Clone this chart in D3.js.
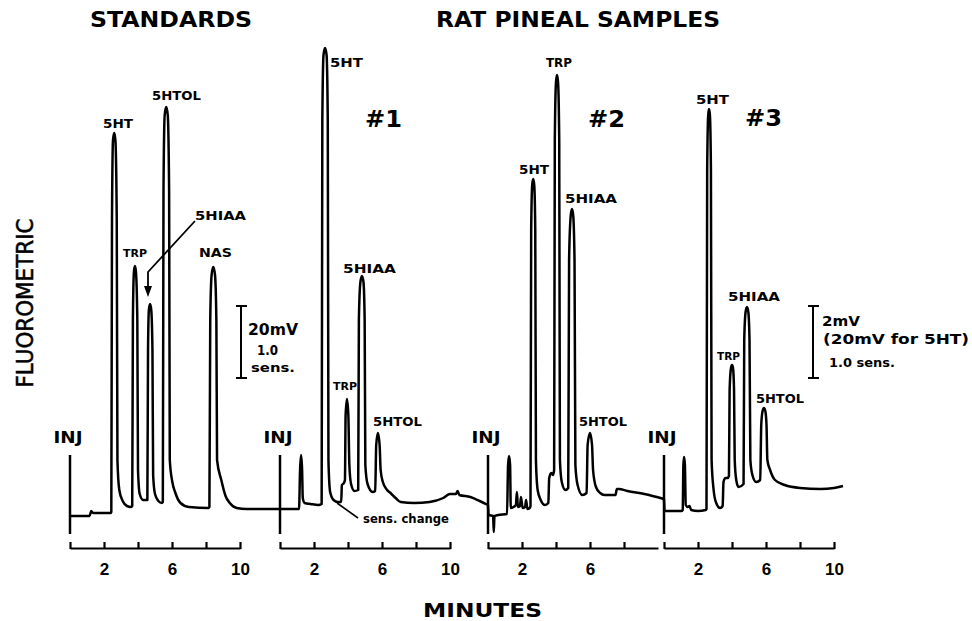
<!DOCTYPE html>
<html>
<head>
<meta charset="utf-8">
<script src="https://cdn.jsdelivr.net/npm/d3@7"></script>
<style>
  body { margin: 0; background: #fff; }
  svg { display: block; }
  text { font-family: "DejaVu Sans", sans-serif; fill: #000; }
</style>
</head>
<body>
<svg id="chart" width="972" height="621"></svg>
<script>
// recorder traces, [minutes after injection, detector response]
const standardsTrace = [
  [0,4],[1.15,4],[1.25,9],[1.35,7],[2.4,7],
  [2.43,8],[2.47,300],[2.53,380],[2.6,387],[2.67,380],[2.75,300],[2.79,60],[2.9,30],[3.1,19],[3.35,14],[3.6,13],
  [3.66,14],[3.7,200],[3.76,248],[3.82,254],[3.88,248],[3.96,200],[4.0,50],[4.1,26],[4.3,20],
  [4.55,20],[4.59,170],[4.64,210],[4.71,216],[4.78,210],[4.85,170],[4.89,45],[5.0,26],[5.2,19],[5.4,17],
  [5.46,18],[5.5,330],[5.57,405],[5.66,413],[5.75,405],[5.83,330],[5.87,60],[6.02,38],[6.18,28],[6.5,17],[7.0,13],[8.15,12],
  [8.2,13],[8.25,200],[8.33,245],[8.43,253],[8.53,245],[8.61,200],[8.65,60],[8.9,40],[9.15,24],[9.4,17],[9.8,12],[10.4,11],[12.35,11]
];
const sample1Trace = [
  [0,11],[1.12,11],[1.18,50],[1.24,65],[1.3,50],[1.34,22],[1.45,17],[1.8,16],[2.25,15],
  [2.45,16],[2.49,400],[2.56,465],[2.65,472],[2.74,465],[2.81,400],[2.85,60],[2.95,28],[3.15,20],[3.4,18],[3.6,18],
  [3.64,35],[3.76,37],
  [3.82,40],[3.86,105],[3.94,121],[4.02,105],[4.08,55],[4.18,36],[4.38,29],
  [4.6,30],[4.64,200],[4.73,238],[4.82,244],[4.91,238],[4.98,200],[5.02,55],[5.15,36],[5.45,28],
  [5.6,29],[5.66,75],[5.76,87],[5.86,75],[5.92,50],[6.05,38],[6.3,30],[6.5,27],[6.8,22],[7.1,18],[7.9,17],
  [8.8,18],[9.6,22],[10.0,26],[10.35,26],[10.45,29],[10.55,25],[11.2,23],[11.75,19],[12.24,15]
];
const sample2Trace = [
  [0,15],[0.04,5],[0.3,4],[0.34,-12],[0.38,4],[0.6,5],[1.12,6],[1.18,55],[1.24,64],[1.3,55],[1.34,12],
  [1.5,13],[1.64,15],[1.7,28],[1.76,13],[1.88,14],[1.94,23],[2.04,12],[2.18,13],[2.24,20],[2.32,11],[2.45,12],
  [2.5,14],[2.54,290],[2.6,335],[2.66,341],[2.72,335],[2.78,290],[2.82,60],[2.92,30],[3.1,20],[3.35,15],[3.55,17],
  [3.6,42],[3.72,47],[3.82,45],
  [3.89,50],[3.93,380],[4.0,438],[4.06,445],[4.12,438],[4.19,380],[4.23,60],[4.34,38],[4.55,30],
  [4.72,32],[4.77,260],[4.87,305],[4.94,311],[5.01,305],[5.09,260],[5.14,55],[5.27,35],[5.55,25],
  [5.8,27],[5.86,75],[6.0,87],[6.12,75],[6.18,50],[6.35,33],[6.6,27],[6.85,25],[7.5,25],[7.58,31],[7.7,31],
  [8.2,29],[9.2,26],[10.35,21]
];
const sample3Trace = [
  [0,21],[0.04,9],[1.05,9],[1.1,10],[1.14,55],[1.18,63],[1.23,55],[1.28,15],[1.4,13],[1.5,14],[1.6,10],[2.0,9],[2.45,10],
  [2.5,11],[2.54,350],[2.6,405],[2.65,411],[2.7,405],[2.76,350],[2.8,60],[2.92,30],[3.05,18],[3.3,12],[3.45,14],
  [3.5,38],[3.62,42],[3.74,42],
  [3.82,44],[3.86,130],[3.94,152],[4.0,155],[4.06,152],[4.12,130],[4.16,60],[4.25,40],[4.38,33],
  [4.68,36],[4.72,180],[4.8,208],[4.88,213],[4.96,208],[5.03,180],[5.08,60],[5.2,45],[5.42,38],
  [5.66,40],[5.72,95],[5.8,109],[5.88,112],[5.96,109],[6.03,95],[6.08,60],[6.24,50],[6.53,40],[7.1,35],
  [8.0,32],[9.2,31],[10.0,32],[10.53,34]
];

const panelTicks = [[0,2,4,6,8,10],[0,2,4,6,8,10],[0,2,4,6,8],[0,2,4,6,8,10]];
const tickLabels = [2, 6, 10];
const injMark = [65, -14];     // response span of the injection pen mark
const scaleBarSpan = [142, 214]; // 20mV / 2mV span on the response axis

const svg = d3.select("#chart");
const origins = [70, 280, 488, 664];
const pxPerMin = 17;
const axisY = 548;

const y = d3.scaleLinear().domain([0, 500]).range([520, 20]);

const panels = [standardsTrace, sample1Trace, sample2Trace, sample3Trace];

panels.forEach((trace, i) => {
    const x = d3.scaleLinear()
        .domain([0, 10])
        .range([origins[i], origins[i] + 10 * pxPerMin]);

    const line = d3.line()
        .x(d => x(d[0]))
        .y(d => y(d[1]))
        .curve(d3.curveMonotoneX);

    svg.append("path")
        .datum(trace)
        .attr("fill", "none")
        .attr("stroke", "#000")
        .attr("stroke-width", 2.5)
        .attr("stroke-linejoin", "round")
        .attr("d", line);

    // injection mark
    svg.append("line")
        .attr("x1", x(0)).attr("x2", x(0))
        .attr("y1", y(injMark[0])).attr("y2", y(injMark[1]))
        .attr("stroke", "#000")
        .attr("stroke-width", 2.5);

    svg.append("text")
        .attr("x", x(0) - 2)
        .attr("y", 443)
        .attr("text-anchor", "middle")
        .attr("font-weight", "bold")
        .style("font-size", "15px")
        .attr("textLength", 29)
        .attr("lengthAdjust", "spacingAndGlyphs")
        .text("INJ");

    const axis = svg.append("g")
        .attr("transform", `translate(0,${axisY})`)
        .call(d3.axisBottom(x)
            .tickValues(panelTicks[i])
            .tickSize(-6)
            .tickSizeOuter(0)
            .tickPadding(15)
            .tickFormat(d => tickLabels.includes(d) ? d : ""));
    axis.select(".domain").attr("stroke-width", 2.2);
    axis.selectAll(".tick line").attr("stroke-width", 2.2).attr("y2", -6).attr("y1", 1);
    axis.selectAll(".tick text")
        .style("font-family", "'Liberation Sans', Arial, sans-serif")
        .style("font-weight", "bold")
        .style("font-size", "17px");
});

function label(txt, x, base, width, size, weight) {
    svg.append("text")
        .attr("x", x)
        .attr("y", base)
        .attr("font-weight", weight || "bold")
        .style("font-size", size + "px")
        .attr("textLength", width)
        .attr("lengthAdjust", "spacingAndGlyphs")
        .text(txt);
}

// headings
label("STANDARDS", 90, 27, 162, 21);
label("RAT PINEAL SAMPLES", 436, 27, 284, 21);
label("#1", 365, 127, 37, 23);
label("#2", 588, 127, 37, 23);
label("#3", 745, 126, 37, 23);

// peak labels
label("5HT", 103, 128, 30, 13);
label("TRP", 123, 257, 24, 11);
label("5HIAA", 195, 220, 51, 13);
label("5HTOL", 152, 100, 49, 13);
label("NAS", 199, 257, 33, 13);

label("5HT", 330, 67, 33, 13);
label("TRP", 333, 390, 24, 11);
label("5HIAA", 343, 273, 53, 13);
label("5HTOL", 373, 426, 49, 13);

label("5HT", 519, 174, 30, 13);
label("TRP", 546, 67, 26, 12);
label("5HIAA", 565, 203, 52, 13);
label("5HTOL", 579, 426, 48, 13);

label("5HT", 696, 104, 33, 13);
label("TRP", 717, 360, 23, 11);
label("5HIAA", 728, 301, 52, 13);
label("5HTOL", 756, 403, 48, 13);

// 5HIAA arrow in standards
svg.append("path")
    .attr("d", "M195,221 L148,272 L148,288")
    .attr("fill", "none")
    .attr("stroke", "#000")
    .attr("stroke-width", 1.8);
svg.append("path")
    .attr("d", "M144,286 L152,286 L148,297 Z")
    .attr("fill", "#000");

// sensitivity change note
svg.append("line")
    .attr("x1", 337).attr("y1", 503)
    .attr("x2", 358).attr("y2", 518)
    .attr("stroke", "#000")
    .attr("stroke-width", 1.6);
label("sens. change", 363, 523, 86, 12);

// scale bars
[241, 813].forEach(bx => {
    svg.append("line")
        .attr("x1", bx).attr("x2", bx)
        .attr("y1", y(scaleBarSpan[1])).attr("y2", y(scaleBarSpan[0]))
        .attr("stroke", "#000").attr("stroke-width", 2);
    scaleBarSpan.forEach(v => {
        svg.append("line")
            .attr("x1", bx - 5).attr("x2", bx + 6)
            .attr("y1", y(v)).attr("y2", y(v))
            .attr("stroke", "#000").attr("stroke-width", 2);
    });
});
label("20mV", 248, 335, 50, 16);
label("1.0", 257, 355, 21, 14);
label("sens.", 251, 372, 44, 13);
label("2mV", 822, 326, 38, 14);
label("(20mV for 5HT)", 823, 344, 146, 14);
label("1.0 sens.", 829, 367, 66, 13);

// axis titles
svg.append("text")
    .attr("transform", "translate(33,303) rotate(-90)")
    .attr("text-anchor", "middle")
    .style("font-size", "23px")
    .attr("stroke", "#000")
    .attr("stroke-width", 0.5)
    .attr("textLength", 169)
    .attr("lengthAdjust", "spacingAndGlyphs")
    .text("FLUOROMETRIC");
label("MINUTES", 423, 617, 119, 20);
</script>
</body>
</html>
